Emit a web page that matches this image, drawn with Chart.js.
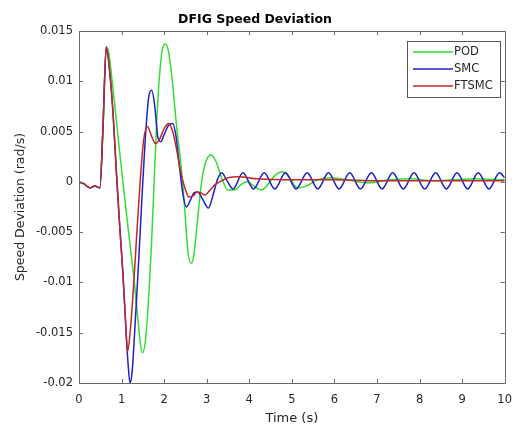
<!DOCTYPE html>
<html>
<head>
<meta charset="utf-8">
<script src="https://cdn.jsdelivr.net/npm/chart.js@4.4.0/dist/chart.umd.min.js"></script>
<style>
html, body { margin: 0; padding: 0; background: #fff; }
</style>
</head>
<body>
<canvas id="speed" width="522" height="428"></canvas>
<script>
// values (time in s, deviation in rad/s)
var podT = [0, 0.12, 0.26, 0.37, 0.49, 0.56, 0.64, 0.70, 0.78, 0.88, 1.00, 1.10, 1.20, 1.30, 1.38, 1.44, 1.49, 1.56, 1.63, 1.70, 1.76, 1.82, 1.89, 1.96, 2.03, 2.10, 2.18, 2.30, 2.40, 2.48, 2.56, 2.64, 2.70, 2.78, 2.88, 2.98, 3.10, 3.22, 3.35, 3.50, 3.65, 3.80, 3.95, 4.10, 4.28, 4.45, 4.62, 4.78, 4.95, 5.13, 5.35, 5.60, 5.90, 6.30, 6.80, 7.30, 7.80, 8.30, 8.80, 9.30, 10];
var podV = [0, -0.0002, -0.0006, -0.0004, -0.0006, 0.0050, 0.0134, 0.0128, 0.0100, 0.0060, 0.0012, -0.0026, -0.0063, -0.0100, -0.0135, -0.0160, -0.0170, -0.0158, -0.0120, -0.0065, -0.0005, 0.0055, 0.0105, 0.0132, 0.0137, 0.0130, 0.0105, 0.0052, 0.0015, -0.0025, -0.0070, -0.0081, -0.0072, -0.0040, 0.0000, 0.0020, 0.0027, 0.0020, 0.0004, -0.0008, -0.0008, -0.0003, 0.0000, -0.0004, -0.0008, -0.0002, 0.0007, 0.0010, 0.0004, -0.0006, -0.0004, 0.0002, 0.0004, 0.0002, -0.0001, 0.0002, 0.0003, 0.0001, 0.0002, 0.0003, 0.0002];

var smcT = [0, 0.12, 0.26, 0.37, 0.49, 0.56, 0.64, 0.72, 0.80, 0.875, 0.95, 1.03, 1.10, 1.16, 1.20, 1.25, 1.32, 1.40, 1.48, 1.56, 1.64, 1.71, 1.78, 1.85, 1.92, 2.00, 2.10, 2.20, 2.28, 2.36, 2.44, 2.52, 2.62, 2.70, 2.79, 2.90, 3.04, 3.15, 3.25, 3.35, 3.48, 3.62, 3.85, 4.10, 4.35, 4.60, 4.85, 5.10, 5.36, 5.61, 5.86, 6.11, 6.36, 6.61, 6.87, 7.12, 7.37, 7.62, 7.87, 8.12, 8.38, 8.63, 8.88, 9.13, 9.38, 9.63, 9.88, 10];
var smcV = [0, -0.0002, -0.0006, -0.0004, -0.0006, 0.0050, 0.0134, 0.0110, 0.0068, 0.0012, -0.0040, -0.0090, -0.0145, -0.0185, -0.0200, -0.0188, -0.0140, -0.0080, -0.0015, 0.0045, 0.0085, 0.0091, 0.0075, 0.0045, 0.0040, 0.0047, 0.0056, 0.0058, 0.0045, 0.0015, -0.0012, -0.0025, -0.0018, -0.0011, -0.0010, -0.0017, -0.0026, -0.0013, 0.0002, 0.0009, 0.0001, -0.0007, 0.0009, -0.0007, 0.0009, -0.0007, 0.0009, -0.0007, 0.0009, -0.0007, 0.0009, -0.0007, 0.0009, -0.0007, 0.0009, -0.0007, 0.0009, -0.0007, 0.0009, -0.0007, 0.0009, -0.0007, 0.0009, -0.0007, 0.0009, -0.0007, 0.0009, 0.0004];

var ftsmcT = [0, 0.12, 0.26, 0.37, 0.49, 0.56, 0.64, 0.72, 0.80, 0.875, 0.95, 1.03, 1.09, 1.14, 1.20, 1.28, 1.36, 1.44, 1.52, 1.61, 1.70, 1.80, 1.90, 2.00, 2.11, 2.20, 2.28, 2.38, 2.48, 2.58, 2.68, 2.77, 2.86, 2.96, 3.08, 3.19, 3.35, 3.50, 3.74, 4.20, 5.00, 6.00, 7.00, 8.00, 9.00, 10];
var ftsmcV = [0, -0.0002, -0.0006, -0.0004, -0.0006, 0.0050, 0.0134, 0.0110, 0.0068, 0.0012, -0.0040, -0.0090, -0.0135, -0.0169, -0.0150, -0.0105, -0.0050, 0.0002, 0.0042, 0.0055, 0.0046, 0.0038, 0.0043, 0.0053, 0.0058, 0.0050, 0.0035, 0.0012, -0.0005, -0.0015, -0.0014, -0.0010, -0.0011, -0.0013, -0.0008, -0.0003, 0.0001, 0.0004, 0.0005, 0.0003, 0.0002, 0.0002, 0.0001, 0.0001, 0.0001, 0.0001];

var seriesNames = ['POD', 'SMC', 'FTSMC'];
var seriesColors = ['#33dd33', '#2020c8', '#c02828'];
var xTicks = [0, 1, 2, 3, 4, 5, 6, 7, 8, 9, 10];
var yTicks = [-0.02, -0.015, -0.01, -0.005, 0, 0.005, 0.01, 0.015];

var axisColor = '#6b6b6b';
var textColor = '#262626';
var fontName = 'DejaVu Sans';

function pts(t, v) {
    return t.map(function (x, i) { return { x: x, y: v[i] }; });
}

// MATLAB style box with inward ticks plus the legend in the upper right
var boxPlugin = {
    id: 'matlabBox',
    afterDraw: function (chart) {
        var ctx = chart.ctx, a = chart.chartArea;
        var xs = chart.scales.x, ys = chart.scales.y;
        ctx.save();
        ctx.strokeStyle = axisColor;
        ctx.lineWidth = 1;
        ctx.beginPath();
        ctx.rect(Math.round(a.left) + 0.5, Math.round(a.top) + 0.5,
                 Math.round(a.right - a.left), Math.round(a.bottom - a.top));
        xTicks.forEach(function (t) {
            var px = Math.round(xs.getPixelForValue(t)) + 0.5;
            ctx.moveTo(px, a.bottom); ctx.lineTo(px, a.bottom - 4);
            ctx.moveTo(px, a.top); ctx.lineTo(px, a.top + 4);
        });
        yTicks.forEach(function (t) {
            var py = Math.round(ys.getPixelForValue(t)) + 0.5;
            ctx.moveTo(a.left, py); ctx.lineTo(a.left + 4, py);
            ctx.moveTo(a.right, py); ctx.lineTo(a.right - 4, py);
        });
        ctx.stroke();

        // legend
        var lx = 407, ly = 41, lw = 93, lh = 56;
        ctx.fillStyle = '#fff';
        ctx.fillRect(lx, ly, lw, lh);
        ctx.strokeStyle = '#555';
        ctx.strokeRect(lx + 0.5, ly + 0.5, lw, lh);
        ctx.font = '11.5px "' + fontName + '"';
        ctx.textBaseline = 'middle';
        ctx.textAlign = 'left';
        seriesNames.forEach(function (name, i) {
            var y = ly + 11 + i * 17;
            ctx.strokeStyle = seriesColors[i];
            ctx.lineWidth = 1.5;
            ctx.beginPath();
            ctx.moveTo(lx + 6, y); ctx.lineTo(lx + 46, y);
            ctx.stroke();
            ctx.fillStyle = textColor;
            ctx.fillText(name, lx + 47, y);
        });
        ctx.restore();
    }
};

var datasets = [pts(podT, podV), pts(smcT, smcV), pts(ftsmcT, ftsmcV)].map(function (d, i) {
    return {
        label: seriesNames[i],
        data: d,
        borderColor: seriesColors[i],
        borderWidth: 1.5,
        pointRadius: 0,
        fill: false,
        cubicInterpolationMode: 'monotone',
        order: 2 - i
    };
});

var ctx = document.getElementById('speed').getContext('2d');
var speedChart = new Chart(ctx, {
    type: 'line',
    data: { datasets: datasets },
    options: {
        responsive: false,
        animation: false,
        layout: { padding: { left: 0, right: 12, top: 0, bottom: 0 } },
        plugins: {
            legend: { display: false },
            tooltip: { enabled: false },
            title: {
                display: true,
                text: 'DFIG Speed Deviation',
                color: '#000',
                font: { family: fontName, size: 12.5, weight: 'bold' },
                padding: { top: 12, bottom: 4 }
            }
        },
        scales: {
            x: {
                type: 'linear',
                min: 0,
                max: 10,
                afterBuildTicks: function (s) { s.ticks = xTicks.map(function (v) { return { value: v }; }); },
                ticks: { color: textColor, font: { family: fontName, size: 11.5 }, padding: 10, maxRotation: 0 },
                grid: { display: false, drawTicks: false },
                border: { display: false },
                title: { display: true, text: 'Time (s)', color: textColor, font: { family: fontName, size: 13 }, padding: { top: 0, bottom: 2 } },
                afterFit: function (s) { s.height = 45; }
            },
            y: {
                type: 'linear',
                min: -0.02,
                max: 0.015,
                afterBuildTicks: function (s) { s.ticks = yTicks.map(function (v) { return { value: v }; }); },
                ticks: {
                    color: textColor,
                    font: { family: fontName, size: 11.5 },
                    padding: 6,
                    callback: function (v) { return String(parseFloat(v.toFixed(3))); }
                },
                grid: { display: false, drawTicks: false },
                border: { display: false },
                title: { display: true, text: 'Speed Deviation (rad/s)', color: textColor, font: { family: fontName, size: 12.5 }, padding: { top: 13, bottom: 0 } },
                afterFit: function (s) { s.width = 79; }
            }
        }
    },
    plugins: [boxPlugin]
});
</script>
</body>
</html>
